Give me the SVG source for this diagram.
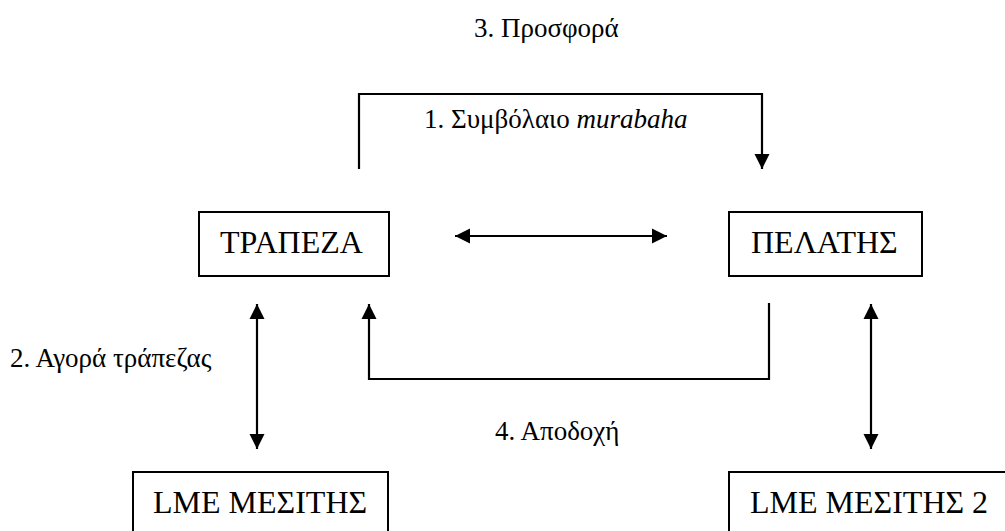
<svg xmlns="http://www.w3.org/2000/svg" width="1005" height="531" viewBox="0 0 1005 531">
<style>
  .box { fill: #fff; stroke: #000; stroke-width: 2; }
  .bt { font-family: "Liberation Serif", "DejaVu Serif", serif; font-size: 32px; fill: #000; }
  .lb { font-family: "Liberation Serif", "DejaVu Serif", serif; font-size: 27px; fill: #000; }
  .ln { fill: none; stroke: #000; stroke-width: 2.2; }
</style>
<defs>
  <marker id="ah" markerUnits="userSpaceOnUse" markerWidth="16" markerHeight="16" viewBox="0 0 16 16" refX="15" refY="8" orient="auto-start-reverse">
    <path d="M0,0.5 L15,8 L0,15.5 Z" fill="#000"/>
  </marker>
</defs>
<rect width="1005" height="531" fill="#fff"/>
<g id="connectors">
  <path class="ln" d="M359,169 V94 H762 V169" marker-end="url(#ah)"/>
  <line class="ln" x1="455" y1="236" x2="667" y2="236" marker-start="url(#ah)" marker-end="url(#ah)"/>
  <line class="ln" x1="257" y1="304" x2="257" y2="449" marker-start="url(#ah)" marker-end="url(#ah)"/>
  <path class="ln" d="M769,303 V379 H369 V304" marker-end="url(#ah)"/>
  <line class="ln" x1="871" y1="304" x2="871" y2="449" marker-start="url(#ah)" marker-end="url(#ah)"/>
</g>
<g id="labels">
  <text class="lb" x="474" y="37">3. Προσφορά</text>
  <text class="lb" x="424" y="128">1. Συμβόλαιο <tspan font-style="italic">murabaha</tspan></text>
  <text class="lb" x="10" y="367">2. Αγορά τράπεζας</text>
  <text class="lb" x="495" y="440">4. Αποδοχή</text>
</g>
<g id="node-trapeza">
  <rect class="box" x="199" y="212" width="190" height="64"/>
  <text class="bt" x="220" y="253">ΤΡΑΠΕΖΑ</text>
</g>
<g id="node-pelatis">
  <rect class="box" x="729" y="212" width="193" height="64"/>
  <text class="bt" x="751" y="253">ΠΕΛΑΤΗΣ</text>
</g>
<g id="node-lme1">
  <rect class="box" x="133" y="472" width="255" height="64"/>
  <text class="bt" x="153" y="513">LME ΜΕΣΙΤΗΣ</text>
</g>
<g id="node-lme2">
  <rect class="box" x="729" y="472" width="290" height="64"/>
  <text class="bt" x="750" y="513">LME ΜΕΣΙΤΗΣ 2</text>
</g>
</svg>
